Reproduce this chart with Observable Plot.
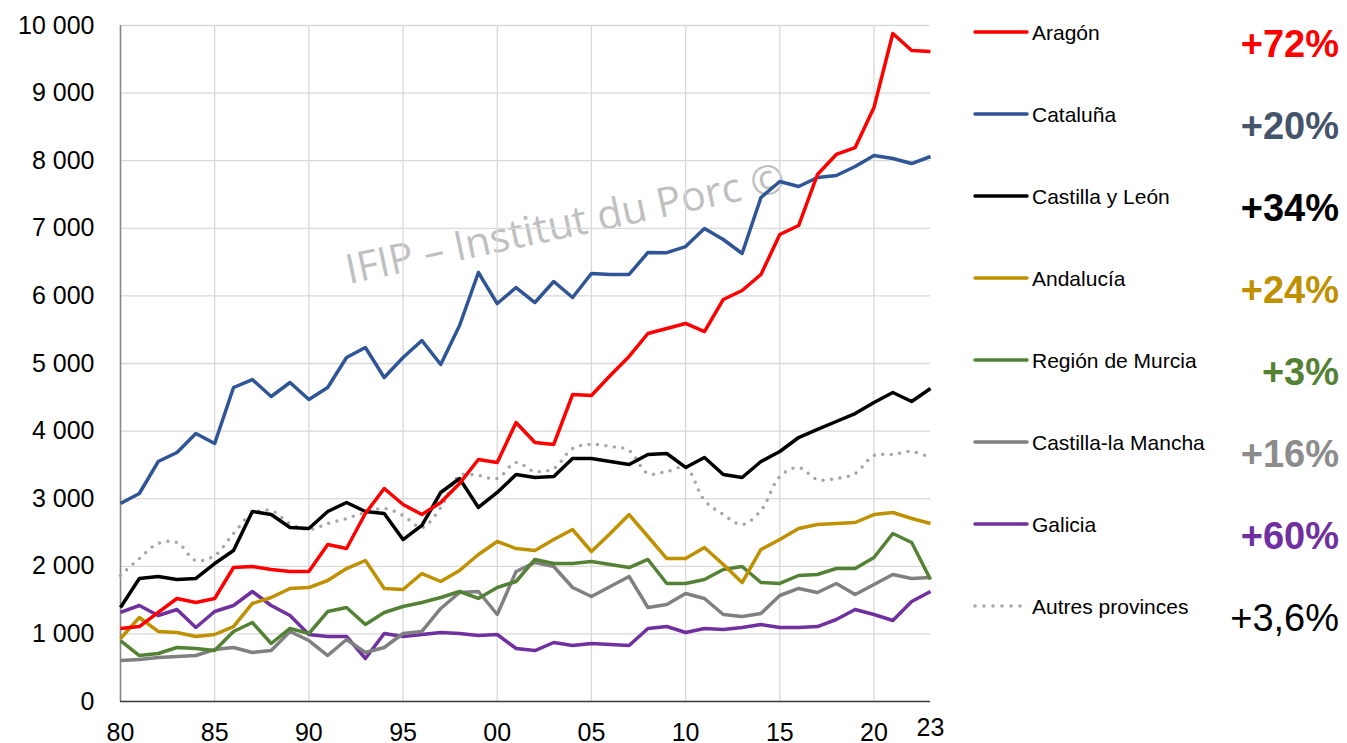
<!DOCTYPE html>
<html>
<head>
<meta charset="utf-8">
<script src="https://cdn.jsdelivr.net/npm/d3@7"></script>
<script src="https://cdn.jsdelivr.net/npm/@observablehq/plot@0.6"></script>
<style>
  html, body { margin: 0; padding: 0; background: #fff; }
  #wrap { position: relative; width: 1347px; height: 743px; overflow: hidden; }
  #wrap svg.overlay { position: absolute; left: 0; top: 0; pointer-events: none; }
  #chart { position: absolute; left: 0; top: 0; z-index: 1; }
</style>
</head>
<body>
<div id="wrap"><div id="chart"></div></div>
<script>
// ---- Data (unit: thousands, 1980–2023) ----
const years = d3.range(1980, 2024);

const aragon = [1080,1109,1317,1524,1464,1524,1982,1997,1953,1923,1923,2322,2263,2781,3151,2914,2766,2944,3225,3580,3535,4127,3831,3802,4541,4527,4822,5104,5444,5518,5592,5473,5947,6080,6317,6908,7041,7796,8092,8195,8787,9882,9630,9615];
const cataluna = [2929,3077,3550,3683,3964,3817,4645,4763,4512,4719,4467,4645,5089,5237,4793,5089,5340,4985,5562,6346,5887,6124,5902,6213,5976,6331,6317,6317,6642,6640,6730,6997,6834,6627,7456,7692,7618,7751,7781,7914,8077,8032,7958,8062];
const castillaLeon = [1391,1820,1849,1805,1820,2041,2234,2811,2766,2574,2559,2811,2944,2811,2781,2396,2604,3092,3299,2870,3092,3358,3314,3328,3595,3595,3550,3506,3654,3669,3462,3609,3358,3314,3550,3698,3905,4024,4142,4260,4423,4571,4438,4630];
const andalucia = [932,1243,1036,1021,962,991,1109,1450,1538,1672,1686,1790,1967,2086,1672,1657,1893,1775,1938,2175,2367,2263,2234,2396,2544,2219,2485,2766,2441,2115,2115,2278,2027,1760,2249,2396,2559,2618,2633,2648,2766,2796,2707,2633];
const murcia = [902,680,710,799,784,754,1036,1169,858,1080,1006,1331,1391,1139,1317,1405,1464,1538,1627,1524,1686,1775,2101,2041,2041,2071,2027,1982,2101,1746,1746,1805,1953,1997,1760,1746,1864,1879,1967,1967,2130,2485,2352,1805];
const castillaMancha = [607,621,651,666,680,769,799,725,754,1036,902,680,917,725,799,1006,1036,1376,1612,1627,1287,1923,2056,1997,1686,1553,1701,1849,1391,1435,1598,1524,1287,1257,1302,1568,1672,1612,1746,1583,1731,1879,1820,1834];
const galicia = [1317,1420,1272,1361,1095,1331,1420,1627,1420,1272,991,962,962,636,1006,962,991,1021,1006,976,991,784,754,873,828,858,843,828,1080,1109,1021,1080,1065,1095,1139,1095,1095,1109,1213,1361,1287,1198,1479,1627];
const autres = [1864,2115,2337,2352,2086,2160,2485,2781,2825,2633,2544,2633,2707,2796,2855,2751,2574,2870,3343,3343,3299,3535,3402,3447,3743,3802,3772,3713,3373,3402,3462,2973,2766,2618,2825,3328,3462,3284,3299,3373,3639,3654,3698,3609];

const seriesNames = ["Aragón","Cataluña","Castilla y León","Andalucía","Región de Murcia","Castilla-la Mancha","Galicia","Autres provinces"];
const seriesValues = [aragon, cataluna, castillaLeon, andalucia, murcia, castillaMancha, galicia, autres];
const seriesColors = ["#ff0000","#2f5597","#000000","#bf9000","#548235","#808080","#7030a0","#a6a6a6"];
const changeLabels = ["+72%","+20%","+34%","+24%","+3%","+16%","+60%","+3,6%"];
const changeColors = ["#ff0000","#44546a","#000000","#bf9000","#548235","#8c8c8c","#7030a0","#000000"];
const changeBold = [true,true,true,true,true,true,true,false];

const yTicks = d3.range(0, 10001, 1000);
const xTicks = [1980,1985,1990,1995,2000,2005,2010,2015,2020];
const xGrid = [1985,1990,1995,2000,2005,2010,2015,2020];
const xLastTick = [2023];
const watermark = "IFIP – Institut du Porc ©";

// ---- Build ----
const toRows = arr => years.map((yr, i) => ({year: yr, value: arr[i]}));
const fmt = d => d3.format(",")(d).replace(/,/g, "\u00a0");
const FONT = "'Liberation Sans', Arial, sans-serif";

// Watermark layer (behind the plot)
const W = 1347, H = 743;
const wm = d3.select("#wrap").insert("svg", "#chart")
  .attr("class", "overlay").attr("width", W).attr("height", H).style("z-index", 0);
wm.append("text")
  .attr("x", 565).attr("y", 223 + 0.36 * 41)
  .attr("text-anchor", "middle")
  .attr("transform", "rotate(-12, 565, 223)")
  .attr("font-family", "'Open Sans', 'Noto Sans', sans-serif")
  .attr("font-size", 41)
  .attr("fill", "#bfbfbf")
  .text(watermark);

const lineMarks = [];
// dotted "Autres" first (underneath), then the regions in reverse legend order
const order = [7, 6, 5, 4, 3, 2, 1, 0];
for (const i of order) {
  const dotted = i === 7;
  lineMarks.push(Plot.line(toRows(seriesValues[i]), {
    x: "year", y: "value",
    stroke: seriesColors[i],
    strokeWidth: 3.5,
    strokeLinejoin: "round",
    strokeLinecap: dotted ? "round" : "butt",
    strokeDasharray: dotted ? "0 8.5" : null,
    curve: dotted ? "catmull-rom" : "linear"
  }));
}

const plot = Plot.plot({
  width: W, height: H,
  marginLeft: 120, marginRight: W - 930, marginTop: 25, marginBottom: 42,
  style: {fontFamily: FONT, fontSize: "25px", color: "#000", background: "transparent", overflow: "visible"},
  x: {domain: [1980, 2023]},
  y: {domain: [0, 10000]},
  marks: [
    Plot.gridY(yTicks.filter(d => d > 0), {stroke: "#d9d9d9", strokeOpacity: 1, strokeWidth: 1.3}),
    Plot.gridX(xGrid, {stroke: "#d9d9d9", strokeOpacity: 1, strokeWidth: 1.3}),
    Plot.ruleX([1980], {stroke: "#868686", strokeWidth: 1.6}),
    Plot.axisY(yTicks, {tickSize: 0, tickPadding: 26, tickFormat: fmt, fontSize: 25, label: null}),
    Plot.axisX(xTicks, {tickSize: 0, tickPadding: 22, tickFormat: d => String(d).slice(2), fontSize: 25, label: null}),
    Plot.axisX(xLastTick, {tickSize: 0, tickPadding: 17, tickFormat: d => String(d).slice(2), fontSize: 25, label: null}),
    ...lineMarks,
    Plot.ruleY([0], {stroke: "#3a3a3a", strokeWidth: 1.6})
  ]
});
document.getElementById("chart").appendChild(plot);

// ---- Legend layer (right side) ----
const lg = d3.select("#wrap").append("svg")
  .attr("class", "overlay").attr("width", W).attr("height", H).style("z-index", 2);
const rowY = i => 32 + 82 * i;
seriesNames.forEach((name, i) => {
  const y = rowY(i);
  const dotted = i === 7;
  lg.append("line")
    .attr("x1", 975).attr("x2", dotted ? 1021 : 1027)
    .attr("y1", y).attr("y2", y)
    .attr("stroke", seriesColors[i])
    .attr("stroke-width", 3.5)
    .attr("stroke-linecap", "round")
    .attr("stroke-dasharray", dotted ? "0 9" : null);
  lg.append("text")
    .attr("x", 1032).attr("y", y + 0.358 * 21)
    .attr("font-family", FONT).attr("font-size", 21).attr("fill", "#000")
    .text(name);
  lg.append("text")
    .attr("x", 1339).attr("y", y + 11 + 0.358 * 38)
    .attr("text-anchor", "end")
    .attr("font-family", FONT).attr("font-size", 38)
    .attr("font-weight", changeBold[i] ? "bold" : "normal")
    .attr("fill", changeColors[i])
    .text(changeLabels[i]);
});
</script>
</body>
</html>
